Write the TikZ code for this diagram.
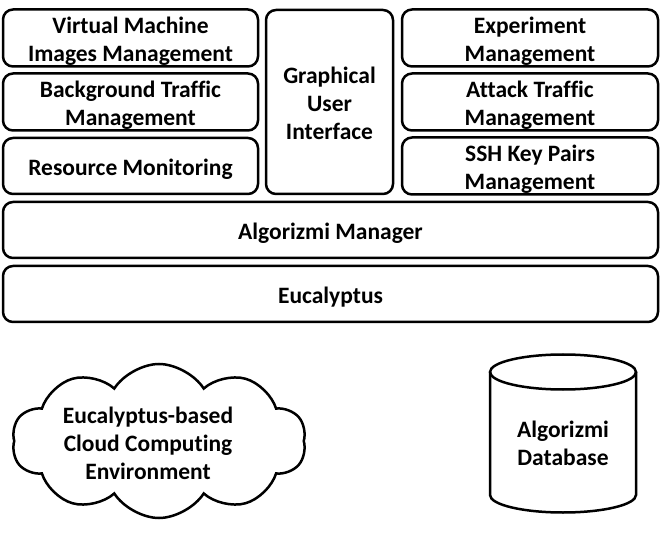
\documentclass[tikz,border=0pt]{standalone}
\usepackage{fontspec}
\setmainfont{Carlito}[Ligatures=NoCommon]
\usetikzlibrary{shapes.symbols}

\begin{document}
\begin{tikzpicture}[x=1pt,y=-1pt,
    label font/.style={font=\fontsize{23.5}{28}\selectfont\bfseries,align=center,
      inner sep=0pt,text depth=5pt,text height=24pt+28pt*(#1-1)},
    label font/.default=1,
    box/.style={draw,line width=2.5pt,rounded corners=10pt,label font=#1},
    box/.default=1]
  \useasboundingbox (0,0) rectangle (661,534);
  % left column
  \node [box=2,minimum width=255pt,minimum height=56pt] (vmimg) at (130.5,38)
    {Virtual Machine\\Images Management};
  \node [box=2,minimum width=255pt,minimum height=56pt] (bgtraffic) at (130.5,102)
    {Background Traffic\\Management};
  \node [box,minimum width=255pt,minimum height=56pt] (resmon) at (130.5,166)
    {Resource Monitoring};
  % middle
  \node [box=3,minimum width=127pt,minimum height=184pt] (gui) at (329.5,102)
    {Graphical\\User\\Interface};
  % right column
  \node [box=2,minimum width=256pt,minimum height=56pt] (expmgmt) at (530,38)
    {Experiment\\Management};
  \node [box=2,minimum width=256pt,minimum height=56pt] (atktraffic) at (530,102)
    {Attack Traffic\\Management};
  \node [box=2,minimum width=256pt,minimum height=56pt] (sshkeys) at (530,166)
    {SSH Key Pairs\\Management};
  % layers
  \node [box,minimum width=655pt,minimum height=56pt] (manager) at (330.5,230)
    {Algorizmi Manager};
  \node [box,minimum width=655pt,minimum height=56pt] (eucalyptus) at (330.5,294)
    {Eucalyptus};
  % cloud
  \node [draw,line width=2.5pt,cloud,cloud puffs=10,cloud puff arc=115,aspect=1.9,
    minimum width=294pt,minimum height=154pt] (cloudenv) at (159,441) {};
  \node [label font=3] (cloudtext) at (148,441.5)
    {Eucalyptus-based\\Cloud Computing\\Environment};
  % database
  \node [label font=2] (database) at (563,441.5) {Algorizmi\\Database};
  \draw [line width=2.5pt] (563,372) ellipse [x radius=73pt,y radius=17.5pt];
  \draw [line width=2.5pt] (490,372) -- (490,495)
    arc [start angle=180,end angle=360,x radius=73pt,y radius=17.5pt]
    -- (636,372);
\end{tikzpicture}
\end{document}
